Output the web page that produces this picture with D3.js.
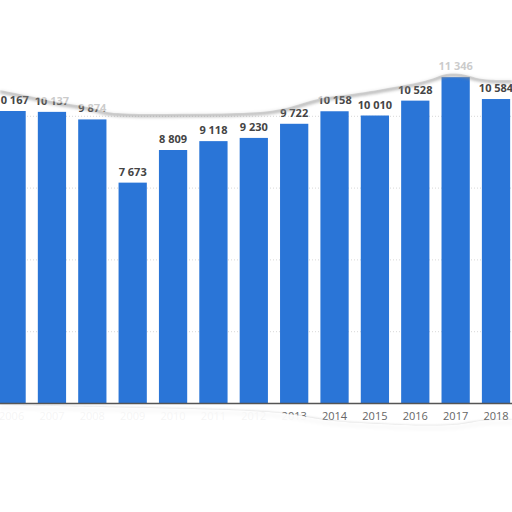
<!DOCTYPE html>
<html>
<head>
<meta charset="utf-8">
<script src="https://cdn.jsdelivr.net/npm/d3@7"></script>
<style>
  body { margin: 0; background: #fff; }
  svg { display: block; }
  .val { font-family: "Open Sans", sans-serif; font-weight: bold; font-size: 11px; fill: #444; }
  .tick text { font-family: "Open Sans", sans-serif; font-size: 11px; fill: #666; }
</style>
</head>
<body>
<div id="chart"></div>
<script>
// data
var years = ["2006", "2007", "2008", "2009", "2010", "2011", "2012", "2013", "2014", "2015", "2016", "2017", "2018"];
var values = [10167, 10137, 9874, 7673, 8809, 9118, 9230, 9722, 10158, 10010, 10528, 11346, 10584];
var gridValues = [2500, 5000, 7500, 10000];

// torn edges of the clipping (picture effect)
var topTear = [[0, 90], [30, 96], [50, 101], [70, 104], [90, 107], [105, 112], [120, 114], [200, 114], [260, 113],
  [290, 108], [320, 97], [350, 95], [400, 86], [422, 82], [437, 77], [447, 73], [465, 74], [475, 78], [490, 80], [512, 80]];
var bottomTear = [[0, 405], [100, 407], [200, 409], [260, 411], [300, 415], [330, 422], [400, 425], [440, 426],
  [465, 424], [480, 420], [512, 420]];

var width = 512, height = 512;
var locale = d3.formatLocale({ decimal: ".", thousands: "\u00a0", grouping: [3], currency: ["", ""] });
var fmt = locale.format(",d");

var svg = d3.select('#chart').append('svg')
  .attr('width', width)
  .attr('height', height);

var defs = svg.append('defs');
defs.append('filter').attr('id', 'soft')
  .attr('x', '-10%').attr('y', '-50%').attr('width', '120%').attr('height', '200%')
  .append('feGaussianBlur').attr('stdDeviation', 1.6);

var x = d3.scaleBand()
  .domain(years)
  .range([-8.6, 516.2])
  .paddingInner(0.3)
  .paddingOuter(0.15);

var y = d3.scaleLinear()
  .domain([0, 12500])
  .range([403, 44]);

// gridlines
svg.append('g').selectAll('line')
  .data(gridValues)
  .enter().append('line')
  .attr('x1', 0).attr('x2', width)
  .attr('y1', function(d) { return y(d) + 0.5; })
  .attr('y2', function(d) { return y(d) + 0.5; })
  .attr('stroke', '#d8d8d8')
  .attr('stroke-dasharray', '1,2');

// bars
svg.append('g').selectAll('rect')
  .data(values)
  .enter().append('rect')
  .attr('x', function(d, i) { return x(years[i]); })
  .attr('y', function(d) { return y(d); })
  .attr('width', x.bandwidth())
  .attr('height', function(d) { return y(0) - y(d); })
  .attr('fill', '#2a75d7');

// value labels
svg.append('g').selectAll('text')
  .data(values)
  .enter().append('text')
  .attr('class', 'val')
  .attr('x', function(d, i) { return x(years[i]) + x.bandwidth() / 2; })
  .attr('y', function(d) { return y(d) - 7; })
  .attr('text-anchor', 'middle')
  .text(function(d) { return fmt(d); });

// x axis
var xAxis = svg.append('g')
  .attr('transform', 'translate(0,' + y(0) + ')')
  .call(d3.axisBottom(x).tickSize(0).tickPadding(9));
xAxis.select('.domain').attr('stroke', '#555').attr('stroke-width', 1.5).attr('d', 'M0,0.5H' + width);

// torn paper overlays
var line = d3.line().curve(d3.curveBasis);

svg.append('path')
  .attr('d', line(topTear))
  .attr('fill', 'none')
  .attr('stroke', '#8a8a8a')
  .attr('stroke-width', 3.5)
  .attr('opacity', 0.6)
  .attr('transform', 'translate(0,1.5)')
  .attr('filter', 'url(#soft)');
svg.append('path')
  .attr('d', line(topTear) + 'L' + width + ',0L0,0Z')
  .attr('fill', '#fff')
  .attr('opacity', 0.72);

svg.append('path')
  .attr('d', line(bottomTear))
  .attr('fill', 'none')
  .attr('stroke', '#8a8a8a')
  .attr('stroke-width', 5)
  .attr('opacity', 0.55)
  .attr('transform', 'translate(0,3)')
  .attr('filter', 'url(#soft)');
svg.append('path')
  .attr('d', line(bottomTear) + 'L' + width + ',' + height + 'L0,' + height + 'Z')
  .attr('fill', '#fff')
  .attr('opacity', 0.93);
</script>
</body>
</html>
